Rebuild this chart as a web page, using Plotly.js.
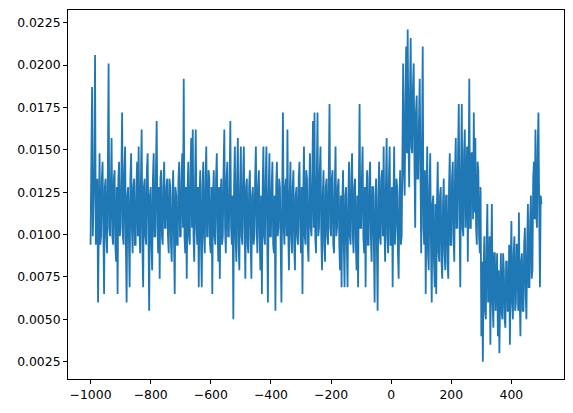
<!DOCTYPE html>
<html>
<head>
<meta charset="utf-8">
<script src="https://cdn.plot.ly/plotly-3.0.1.min.js"></script>
<style>html,body{margin:0;padding:0;background:#fff;}#chart{width:573px;height:413px;}</style>
</head>
<body>
<div id="chart"></div>
<script>
// sample positions: -1000 .. 500, every 2.5 units
const xStart = -1000;
const xStep = 2.5;
// values (one per sample position), 20 per 50-unit block
const values = [
  // -1000
  0.0094,0.0172,0.0187,0.0099,0.0113,0.0138,0.0206,0.0094,0.0104,0.0133,0.0060,0.0128,0.0148,0.0094,0.0099,0.0133,0.0143,0.0104,0.0065,0.0128,
  // -950
  0.0133,0.0099,0.0089,0.0138,0.0201,0.0104,0.0099,0.0128,0.0157,0.0099,0.0094,0.0133,0.0138,0.0094,0.0084,0.0128,0.0065,0.0133,0.0143,0.0099,
  // -900
  0.0104,0.0133,0.0172,0.0099,0.0094,0.0138,0.0152,0.0094,0.0060,0.0123,0.0128,0.0099,0.0069,0.0133,0.0148,0.0104,0.0089,0.0128,0.0133,0.0094,
  // -850
  0.0094,0.0128,0.0143,0.0099,0.0152,0.0104,0.0089,0.0133,0.0162,0.0094,0.0069,0.0128,0.0133,0.0099,0.0094,0.0138,0.0148,0.0104,0.0055,0.0123,
  // -800
  0.0128,0.0094,0.0079,0.0133,0.0148,0.0099,0.0099,0.0138,0.0167,0.0104,0.0089,0.0128,0.0074,0.0133,0.0138,0.0099,0.0094,0.0128,0.0143,0.0104,
  // -750
  0.0104,0.0128,0.0133,0.0099,0.0089,0.0133,0.0128,0.0094,0.0084,0.0123,0.0138,0.0099,0.0065,0.0128,0.0123,0.0094,0.0094,0.0133,0.0143,0.0099,
  // -700
  0.0099,0.0133,0.0148,0.0104,0.0192,0.0099,0.0089,0.0128,0.0074,0.0123,0.0143,0.0099,0.0094,0.0138,0.0157,0.0104,0.0162,0.0099,0.0084,0.0128,
  // -650
  0.0162,0.0104,0.0094,0.0128,0.0069,0.0123,0.0138,0.0094,0.0069,0.0128,0.0143,0.0099,0.0089,0.0133,0.0152,0.0099,0.0099,0.0138,0.0133,0.0094,
  // -600
  0.0089,0.0128,0.0065,0.0123,0.0138,0.0099,0.0094,0.0133,0.0148,0.0104,0.0084,0.0128,0.0074,0.0123,0.0133,0.0094,0.0099,0.0138,0.0162,0.0104,
  // -550
  0.0089,0.0133,0.0143,0.0099,0.0099,0.0128,0.0167,0.0104,0.0094,0.0123,0.0050,0.0128,0.0152,0.0099,0.0084,0.0133,0.0157,0.0094,0.0079,0.0128,
  // -500
  0.0152,0.0099,0.0094,0.0133,0.0152,0.0104,0.0074,0.0128,0.0133,0.0094,0.0089,0.0128,0.0138,0.0099,0.0074,0.0123,0.0128,0.0094,0.0099,0.0133,
  // -450
  0.0152,0.0104,0.0089,0.0128,0.0138,0.0099,0.0079,0.0123,0.0065,0.0128,0.0152,0.0099,0.0094,0.0133,0.0152,0.0104,0.0060,0.0123,0.0148,0.0099,
  // -400
  0.0099,0.0128,0.0143,0.0094,0.0089,0.0123,0.0055,0.0128,0.0143,0.0099,0.0104,0.0133,0.0128,0.0094,0.0060,0.0123,0.0172,0.0104,0.0094,0.0128,
  // -350
  0.0133,0.0099,0.0162,0.0104,0.0079,0.0123,0.0143,0.0099,0.0089,0.0128,0.0138,0.0094,0.0079,0.0123,0.0128,0.0099,0.0094,0.0133,0.0143,0.0104,
  // -300
  0.0089,0.0128,0.0065,0.0123,0.0152,0.0099,0.0094,0.0138,0.0133,0.0094,0.0084,0.0128,0.0148,0.0104,0.0099,0.0133,0.0167,0.0104,0.0172,0.0099,
  // -250
  0.0089,0.0133,0.0172,0.0099,0.0104,0.0138,0.0152,0.0099,0.0079,0.0123,0.0138,0.0094,0.0084,0.0128,0.0133,0.0099,0.0094,0.0138,0.0177,0.0104,
  // -200
  0.0099,0.0133,0.0138,0.0094,0.0089,0.0128,0.0152,0.0099,0.0104,0.0128,0.0133,0.0094,0.0079,0.0123,0.0069,0.0118,0.0138,0.0094,0.0069,0.0123,
  // -150
  0.0128,0.0094,0.0069,0.0123,0.0143,0.0099,0.0094,0.0133,0.0148,0.0099,0.0089,0.0128,0.0133,0.0094,0.0079,0.0123,0.0069,0.0128,0.0177,0.0104,
  // -100
  0.0104,0.0133,0.0152,0.0099,0.0089,0.0128,0.0069,0.0123,0.0138,0.0094,0.0094,0.0133,0.0143,0.0099,0.0084,0.0128,0.0128,0.0094,0.0060,0.0123,
  // -50
  0.0133,0.0094,0.0055,0.0123,0.0143,0.0099,0.0094,0.0133,0.0138,0.0099,0.0152,0.0104,0.0084,0.0128,0.0157,0.0099,0.0089,0.0133,0.0152,0.0094,
  // 0
  0.0094,0.0128,0.0069,0.0118,0.0152,0.0094,0.0104,0.0133,0.0128,0.0089,0.0074,0.0123,0.0138,0.0094,0.0099,0.0148,0.0201,0.0138,0.0123,0.0177,
  // 50
  0.0211,0.0148,0.0221,0.0157,0.0128,0.0182,0.0216,0.0152,0.0148,0.0187,0.0201,0.0143,0.0104,0.0172,0.0182,0.0133,0.0133,0.0167,0.0192,0.0138,
  // 100
  0.0089,0.0148,0.0211,0.0104,0.0094,0.0138,0.0065,0.0118,0.0152,0.0089,0.0079,0.0128,0.0148,0.0094,0.0060,0.0118,0.0123,0.0084,0.0069,0.0118,
  // 150
  0.0065,0.0118,0.0143,0.0089,0.0084,0.0123,0.0128,0.0084,0.0074,0.0118,0.0133,0.0089,0.0079,0.0123,0.0123,0.0084,0.0074,0.0128,0.0148,0.0094,
  // 200
  0.0094,0.0133,0.0143,0.0099,0.0084,0.0138,0.0157,0.0104,0.0104,0.0148,0.0177,0.0109,0.0069,0.0138,0.0177,0.0104,0.0099,0.0148,0.0162,0.0104,
  // 250
  0.0128,0.0152,0.0084,0.0143,0.0192,0.0104,0.0104,0.0148,0.0148,0.0109,0.0172,0.0113,0.0157,0.0104,0.0094,0.0143,0.0138,0.0099,0.0089,0.0128,
  // 300
  0.0040,0.0084,0.0025,0.0079,0.0099,0.0055,0.0050,0.0094,0.0118,0.0060,0.0065,0.0099,0.0035,0.0079,0.0118,0.0060,0.0045,0.0089,0.0089,0.0055,
  // 350
  0.0069,0.0089,0.0040,0.0079,0.0030,0.0074,0.0089,0.0055,0.0050,0.0089,0.0079,0.0050,0.0045,0.0084,0.0084,0.0055,0.0055,0.0094,0.0035,0.0079,
  // 400
  0.0108,0.0060,0.0050,0.0089,0.0099,0.0055,0.0060,0.0094,0.0094,0.0055,0.0113,0.0065,0.0040,0.0084,0.0089,0.0055,0.0055,0.0094,0.0104,0.0065,
  // 450 .. 500
  0.0050,0.0094,0.0118,0.0069,0.0069,0.0109,0.0123,0.0074,0.0079,0.0133,0.0143,0.0109,0.0162,0.0113,0.0104,0.0152,0.0172,0.0113,0.0069,0.0123,0.0118
];
const xTickVals = [-1000,-800,-600,-400,-200,0,200,400];
const yTickVals = [0.0025,0.0050,0.0075,0.0100,0.0125,0.0150,0.0175,0.0200,0.0225];
const yTickText = ['0.0025','0.0050','0.0075','0.0100','0.0125','0.0150','0.0175','0.0200','0.0225'];

const xs = values.map((_, i) => xStart + i * xStep);

const trace = {
  x: xs, y: values, type: 'scatter', mode: 'lines',
  line: {color: '#1f77b4', width: 1.8},
  hoverinfo: 'skip'
};

const axisCommon = {
  showline: true, mirror: true, linecolor: '#000', linewidth: 1,
  ticks: 'outside', ticklen: 4, tickwidth: 1, tickcolor: '#000',
  showgrid: false, zeroline: false,
  tickfont: {family: 'DejaVu Sans', size: 12.4, color: '#000'}
};

const layout = {
  width: 573, height: 413,
  margin: {l: 68, r: 9, t: 10, b: 34, pad: 0},
  paper_bgcolor: '#fff', plot_bgcolor: '#fff',
  showlegend: false,
  xaxis: Object.assign({}, axisCommon, {
    range: [-1075, 575], tickvals: xTickVals
  }),
  yaxis: Object.assign({}, axisCommon, {
    range: [0.00148, 0.02325], tickvals: yTickVals, ticktext: yTickText
  })
};

Plotly.newPlot('chart', [trace], layout, {staticPlot: true, displayModeBar: false});
</script>
</body>
</html>
